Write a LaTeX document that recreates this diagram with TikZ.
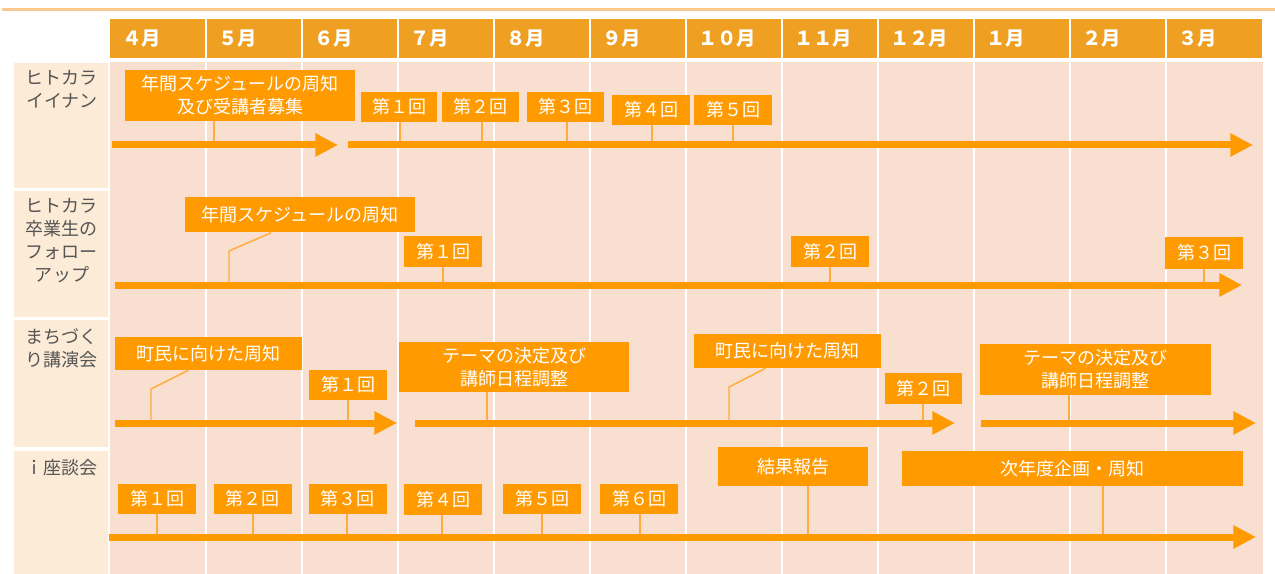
\documentclass[tikz,border=0pt]{standalone}
\usepackage{fontspec}
\setmainfont{Noto Sans CJK JP}
\usetikzlibrary{arrows.meta}
\usetikzlibrary{calc}

\definecolor{hdrcol}{RGB}{239,159,34}
\definecolor{evorange}{RGB}{255,154,0}
\definecolor{leadcol}{RGB}{255,172,60}
\definecolor{peach}{RGB}{249,223,208}
\definecolor{labcol}{RGB}{252,235,214}
\definecolor{labtext}{RGB}{85,85,85}
\definecolor{topline}{RGB}{250,200,143}

\tikzset{
  evbox/.style={fill=evorange, text=white, inner sep=0pt, align=center,
    font=\fontsize{13.5}{17.25}\selectfont},
  sz/.style 2 args={minimum width=#1*0.75pt, minimum height=#2*0.75pt},
  flow/.style={draw=evorange, line width=5.25pt, -{Triangle[length=17pt,width=16.5pt]}},
  leader/.style={draw=leadcol, line width=1.1pt},
  rowlab/.style={text=labtext, align=center, anchor=north, inner sep=0pt,
    font=\fontsize{13.5}{17.25}\selectfont},
  monthlab/.style={text=white, anchor=west, inner sep=0pt,
    font=\fontsize{14.5}{17}\selectfont\bfseries}
}

\begin{document}
\begin{tikzpicture}[x=0.75pt,y=0.75pt,yscale=-1,xscale=1]
\useasboundingbox (0,0) rectangle (1275,574);

% top rule
\draw [color=topline, line width=2pt] (2,9.5) -- (1275,9.5);

% month header
\fill [hdrcol] (110,19) rectangle (1262,58);
\foreach \m [count=\i from 0] in {４月,５月,６月,７月,８月,９月,１０月,１１月,１２月,１月,２月,３月}
  \node [monthlab] (m\i) at ({122+96*\i},38.5) {\m};
\foreach \i in {1,...,11}
  \draw [white, line width=1.5pt] ({110+96*\i},19) -- ({110+96*\i},58);

% body cells
\fill [peach] (110,62) rectangle (1263,574);
\foreach \i in {1,...,11}
  \draw [white, line width=1.3pt] ({110+96*\i},62) -- ({110+96*\i},574);

% row heads
\fill [labcol] (14,63) rectangle (108,188);
\fill [labcol] (14,191) rectangle (108,317);
\fill [labcol] (14,320) rectangle (108,447);
\fill [labcol] (14,451) rectangle (108,574);
\node [rowlab] (h1) at (62,70) {ヒトカラ\\イイナン};
\node [rowlab] (h2) at (62,198) {ヒトカラ\\卒業生の\\フォロー\\アップ};
\node [rowlab] (h3) at (62,328) {まちづく\\り講演会};
\node [rowlab] (h4) at (62,459) {ｉ座談会};

%%% row 1
\node [evbox, sz={230}{51}] (b1a) at (240,95.5) {年間スケジュールの周知\\及び受講者募集};
\node [evbox, sz={76}{30}] (r1k1) at (399,107) {第１回};
\node [evbox, sz={77}{30}] (r1k2) at (480.5,107) {第２回};
\node [evbox, sz={77}{30}] (r1k3) at (565.5,107) {第３回};
\node [evbox, sz={78}{30}] (r1k4) at (651,110) {第４回};
\node [evbox, sz={78}{30}] (r1k5) at (733,110) {第５回};
\coordinate (a1s) at (112,145);
\coordinate (a1e) at (338,145);
\coordinate (a2s) at (348,145);
\coordinate (a2e) at (1253,145);
\coordinate (p1a) at (214,145);
\coordinate (p1b) at (400,145);
\coordinate (p1c) at (482,145);
\coordinate (p1d) at (567,145);
\coordinate (p1e) at (652,145);
\coordinate (p1f) at (733,145);
\draw [leader] (p1a) -- (p1a |- b1a.south);
\draw [leader] (p1b) -- (p1b |- r1k1.south);
\draw [leader] (p1c) -- (p1c |- r1k2.south);
\draw [leader] (p1d) -- (p1d |- r1k3.south);
\draw [leader] (p1e) -- (p1e |- r1k4.south);
\draw [leader] (p1f) -- (p1f |- r1k5.south);
\draw [flow] (a1s) -- (a1e);
\draw [flow] (a2s) -- (a2e);

%%% row 2
\node [evbox, sz={230}{35}] (b2a) at (300,215) {年間スケジュールの周知};
\node [evbox, sz={78}{31}] (r2k1) at (443,251.5) {第１回};
\node [evbox, sz={78}{31}] (r2k2) at (830,251.5) {第２回};
\node [evbox, sz={78}{31}] (r2k3) at (1204,253) {第３回};
\coordinate (a3s) at (115,285);
\coordinate (a3e) at (1242,285);
\coordinate (p2a) at (229,285);
\coordinate (q2a) at (229,251);
\coordinate (p2b) at (443,285);
\coordinate (p2c) at (830,285);
\coordinate (p2d) at (1204,285);
\draw [leader] (p2a) -- (q2a) -- ($(b2a.south)+(-29,0)$);
\draw [leader] (p2b) -- (p2b |- r2k1.south);
\draw [leader] (p2c) -- (p2c |- r2k2.south);
\draw [leader] (p2d) -- (p2d |- r2k3.south);
\draw [flow] (a3s) -- (a3e);

%%% row 3
\node [evbox, sz={187}{33}] (b3a) at (208.5,353.5) {町民に向けた周知};
\node [evbox, sz={78}{30}] (r3k1) at (348,384.5) {第１回};
\node [evbox, sz={230}{50}] (b3b) at (514,367) {テーマの決定及び\\講師日程調整};
\node [evbox, sz={187}{34}] (b3c) at (787.5,351) {町民に向けた周知};
\node [evbox, sz={77}{31}] (r3k2) at (923.5,388.5) {第２回};
\node [evbox, sz={231}{51}] (b3d) at (1095.5,369.5) {テーマの決定及び\\講師日程調整};
\coordinate (a4s) at (115,423);
\coordinate (a4e) at (397,423);
\coordinate (a5s) at (415,423);
\coordinate (a5e) at (955,423);
\coordinate (a6s) at (981,423);
\coordinate (a6e) at (1256,423);
\coordinate (p3a) at (151,423);
\coordinate (q3a) at (151,389);
\coordinate (p3b) at (348,423);
\coordinate (p3c) at (487,423);
\coordinate (p3d) at (729,423);
\coordinate (q3d) at (729,387);
\coordinate (p3e) at (923,423);
\coordinate (p3f) at (1069,423);
\draw [leader] (p3a) -- (q3a) -- ($(b3a.south)+(-20,0)$);
\draw [leader] (p3b) -- (p3b |- r3k1.south);
\draw [leader] (p3c) -- (p3c |- b3b.south);
\draw [leader] (p3d) -- (q3d) -- ($(b3c.south)+(-22,0)$);
\draw [leader] (p3e) -- (p3e |- r3k2.south);
\draw [leader] (p3f) -- (p3f |- b3d.south);
\draw [flow] (a4s) -- (a4e);
\draw [flow] (a5s) -- (a5e);
\draw [flow] (a6s) -- (a6e);

%%% row 4
\node [evbox, sz={78}{30}] (r4k1) at (157,499) {第１回};
\node [evbox, sz={78}{30}] (r4k2) at (252.5,499) {第２回};
\node [evbox, sz={78}{30}] (r4k3) at (347.5,499) {第３回};
\node [evbox, sz={78}{31}] (r4k4) at (443,499.5) {第４回};
\node [evbox, sz={78}{30}] (r4k5) at (542,499) {第５回};
\node [evbox, sz={78}{30}] (r4k6) at (639,499) {第６回};
\node [evbox, sz={150}{39}] (b4a) at (793,466.5) {結果報告};
\node [evbox, sz={341}{35}] (b4b) at (1072.5,468.5) {次年度企画・周知};
\coordinate (a7s) at (109,537);
\coordinate (a7e) at (1256,537);
\coordinate (p4a) at (157,537);
\coordinate (p4b) at (253,537);
\coordinate (p4c) at (347,537);
\coordinate (p4d) at (442,537);
\coordinate (p4e) at (542,537);
\coordinate (p4f) at (640,537);
\coordinate (p4g) at (808,537);
\coordinate (p4h) at (1103,537);
\draw [leader] (p4a) -- (p4a |- r4k1.south);
\draw [leader] (p4b) -- (p4b |- r4k2.south);
\draw [leader] (p4c) -- (p4c |- r4k3.south);
\draw [leader] (p4d) -- (p4d |- r4k4.south);
\draw [leader] (p4e) -- (p4e |- r4k5.south);
\draw [leader] (p4f) -- (p4f |- r4k6.south);
\draw [leader] (p4g) -- (p4g |- b4a.south);
\draw [leader] (p4h) -- (p4h |- b4b.south);
\draw [flow] (a7s) -- (a7e);

\end{tikzpicture}
\end{document}
